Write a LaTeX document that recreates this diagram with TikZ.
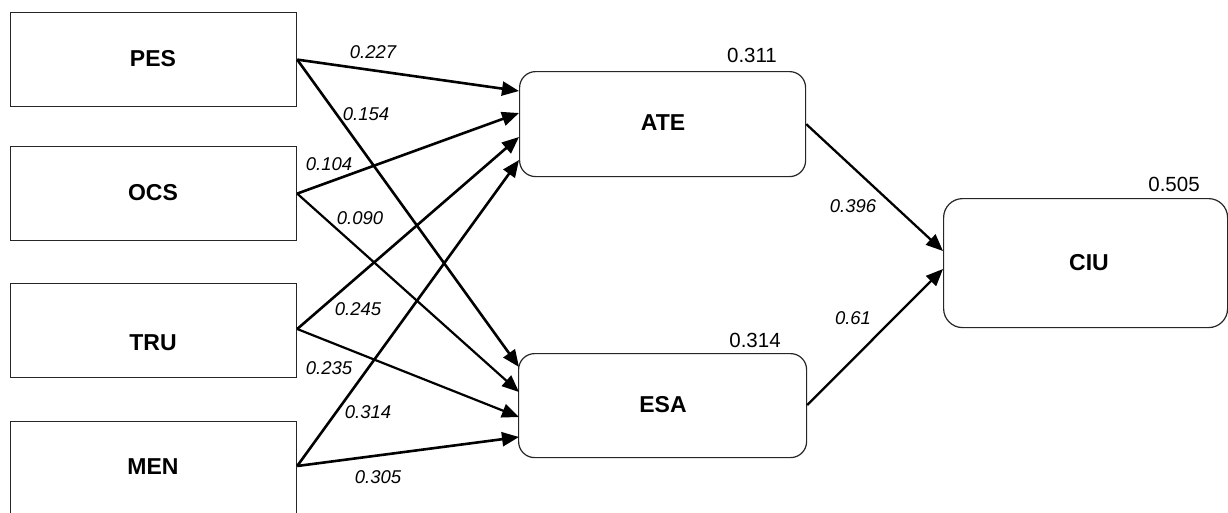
\documentclass[tikz,border=0pt]{standalone}
\usepackage{fontspec}
\setmainfont{Liberation Sans}
\usetikzlibrary{arrows.meta,calc}
\begin{document}
\begin{tikzpicture}[x=1pt,y=-1pt,
  exobox/.style={draw=black!85,line width=1.2pt,rectangle,minimum width=286pt,minimum height=94pt,inner sep=0pt,anchor=north west},
  enbox/.style={draw=black!85,line width=1.2pt,rectangle,rounded corners=16pt,inner sep=0pt,anchor=north west},
  boxlbl/.style={font=\fontsize{23}{27}\selectfont\bfseries,inner sep=0pt},
  coef/.style={font=\fontsize{18.5}{22}\selectfont\itshape,inner sep=0pt},
  rsq/.style={font=\fontsize{20.5}{24}\selectfont,inner sep=0pt},
  path/.style={draw=black,line width=2.6pt,-{Triangle[length=17pt,width=14pt]}}
]
\useasboundingbox (0,0) rectangle (1228,512);
\fill[white] (0,0) rectangle (1228,512);
\begin{scope}
\clip (0,0) rectangle (1228,512);
% exogenous boxes
\node[exobox] (pes) at (10,12) {};
\node[exobox] (ocs) at (10,146) {};
\node[exobox] (tru) at (10,283) {};
\node[exobox] (men) at (10,421) {};
\node[boxlbl] (peslbl) at (153,59) {PES};
\node[boxlbl] (ocslbl) at (153,193) {OCS};
\node[boxlbl] (trulbl) at (153,343) {TRU};
\node[boxlbl] (menlbl) at (153,467) {MEN};
% endogenous boxes
\node[enbox,minimum width=286pt,minimum height=105pt] (ate) at (519,71) {};
\node[enbox,minimum width=288pt,minimum height=104pt] (esa) at (518,353) {};
\node[enbox,minimum width=284pt,minimum height=129pt,rounded corners=19pt] (ciu) at (943,198) {};
\node[boxlbl] (atelbl) at (663,123) {ATE};
\node[boxlbl] (esalbl) at (663,405) {ESA};
\node[boxlbl] (ciulbl) at (1089,263) {CIU};
% targets
\coordinate (a1) at ($(ate.north west)+(0,20)$);
\coordinate (a2) at ($(ate.north west)+(0,42)$);
\coordinate (a3) at ($(ate.north west)+(0,66)$);
\coordinate (a4) at ($(ate.north west)+(0,89)$);
\coordinate (e1) at ($(esa.north west)+(1,14)$);
\coordinate (e2) at ($(esa.north west)+(1,39)$);
\coordinate (e3) at ($(esa.north west)+(1,64)$);
\coordinate (e4) at ($(esa.north west)+(1,84)$);
\coordinate (c1) at ($(ciu.north west)+(0,53)$);
\coordinate (c2) at ($(ciu.north west)+(0,71)$);
\coordinate (ps) at ($(pes.east)+(0,0)$);
\coordinate (os) at ($(ocs.east)+(0,0)$);
\coordinate (ts) at ($(tru.north east)+(0,46)$);
\coordinate (ms) at ($(men.north east)+(0,45)$);
\coordinate (as) at (ate.east);
\coordinate (es) at ($(esa.north east)+(0,52)$);
% paths
\draw[path] (ps) -- (a1);
\draw[path] (os) -- (a2);
\draw[path] (ts) -- (a3);
\draw[path] (ms) -- (a4);
\draw[path] (ps) -- (e1);
\draw[path,line width=2.2pt] (os) -- (e2);
\draw[path,line width=2.2pt] (ts) -- (e3);
\draw[path] (ms) -- (e4);
\draw[path,line width=2.3pt] (as) -- (c1);
\draw[path,line width=2.3pt] (es) -- (c2);
% coefficients
\node[coef] (k1) at (373,52) {0.227};
\node[coef] (k2) at (366,114) {0.154};
\node[coef] (k3) at (329,164) {0.104};
\node[coef] (k4) at (360,218) {0.090};
\node[coef] (k5) at (358,309) {0.245};
\node[coef] (k6) at (329,368) {0.235};
\node[coef] (k7) at (368,412) {0.314};
\node[coef] (k8) at (378,477) {0.305};
\node[coef] (k9) at (853,206) {0.396};
\node[coef] (k10) at (853,318) {0.61};
% R squared
\node[rsq] (r1) at (752,55) {0.311};
\node[rsq] (r2) at (755,340) {0.314};
\node[rsq] (r3) at (1174,184) {0.505};
\end{scope}
\end{tikzpicture}
\end{document}
